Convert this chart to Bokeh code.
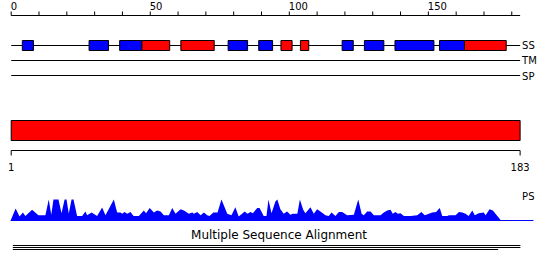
from bokeh.plotting import figure
from bokeh.models import Range1d
from bokeh.core.properties import value
from bokeh.embed import file_html
from bokeh.resources import INLINE

# ---------------- data ----------------
SEQ_LEN = 183
ruler_ticks = list(range(0, 181, 10))
ruler_label_pos = [0, 50, 100, 150]
ruler_labels = ["0", "50", "100", "150"]

ss_start = [4, 28, 39, 47, 61, 78, 89, 97, 104, 119, 127, 138, 154, 163]
ss_end = [8, 35, 47, 57, 73, 85, 94, 101, 107, 123, 134, 152, 163, 178]
ss_type = ["helix", "helix", "helix", "strand", "strand", "helix", "helix",
           "strand", "strand", "helix", "helix", "helix", "helix", "strand"]

track_names = ["SS", "TM", "SP"]

domain_start = [0]
domain_end = [183]
seq_label_pos = [0, 183]
seq_labels = ["1", "183"]

ps_pos = [-0.2, 1.6, 3.0, 4.2, 5.1, 7.5, 9.8, 12.3, 13.5, 14.4, 15.2, 17.0, 18.1, 19.2, 19.9,
          20.7, 21.7, 22.4, 23.7, 25.5, 26.7, 27.3, 28.9, 30.9, 32.7, 33.9,
          36.9, 38.1, 39.3, 39.9, 40.8, 41.7, 42.9, 44.0, 45.9, 47.7, 48.5, 49.8, 51.3,
          52.5, 53.7, 54.9, 56.7, 57.9, 59.1, 60.9, 62.1, 63.9, 65.1, 65.7, 66.9, 68.1,
          69.3, 70.5,
          71.3, 72.7, 74.2, 75.6, 77.7, 79.2, 80.6, 81.8, 84.0, 84.9, 86.1, 86.9, 88.5,
          89.3, 90.8, 91.8, 92.5, 93.6, 95.0, 95.7, 96.8, 98.0, 99.2, 100.4, 101.2,
          102.9, 103.8, 105.0, 105.8,
          107.6, 108.8, 110.0, 111.2, 113.0, 114.2, 115.2, 116.6, 117.8, 119.0, 120.8,
          123.2, 124.8, 126.0, 126.8, 128.0, 129.2, 130.4, 132.8, 134.0, 135.2, 136.4,
          137.2, 138.2, 139.0, 140.0, 141.2, 143.6,
          146.0, 147.5, 148.7, 150.2, 151.4, 152.8, 153.5, 154.1, 155.0, 156.8, 157.4,
          159.8, 161.0, 162.2, 163.4, 164.5, 165.8, 166.7, 168.1, 169.9, 170.6, 172.0,
          173.2, 174.8, 175.9, 176.3]
ps_val = [0.0, 0.57, 0.19, 0.38, 0.22, 0.51, 0.25, 0.25, 1.0, 0.27, 1.0, 1.0, 0.35, 1.0, 1.0,
          0.33, 1.0, 1.0, 0.22, 0.22, 0.43, 0.25, 0.38, 0.22, 0.62, 0.25,
          1.0, 0.38, 0.38, 0.32, 0.40, 0.32, 0.41, 0.22, 0.22, 0.48, 0.35, 0.59, 0.38,
          0.48, 0.43, 0.25, 0.25, 0.59, 0.32, 0.54, 0.48, 0.32, 0.38, 0.32, 0.41, 0.25,
          0.38, 0.25,
          0.22, 0.38, 0.38, 1.0, 0.32, 0.25, 0.63, 0.19, 0.43, 0.32, 0.41, 0.35, 0.59,
          0.59, 0.22, 0.22, 1.0, 0.35, 0.90, 1.0, 0.54, 0.32, 0.43, 0.27, 0.32,
          0.32, 1.0, 0.51, 0.35,
          0.63, 0.32, 0.54, 0.43, 0.25, 0.22, 0.38, 0.22, 0.41, 0.41, 0.25,
          0.27, 1.0, 0.32, 0.25, 0.43, 0.43, 0.25, 0.25, 0.38, 0.48, 0.51,
          0.32, 0.41, 0.32, 0.35, 0.22, 0.22,
          0.25, 0.41, 0.25, 0.32, 0.38, 0.41, 0.51, 0.59, 0.22, 0.22, 0.25,
          0.25, 0.41, 0.38, 0.32, 0.22, 0.48, 0.25, 0.35, 0.38, 0.25, 0.54,
          0.48, 0.22, 0.03, 0.0]
ps_axis_end = 187.8

msa_start = [0.6, 0.6, 0.6]
msa_end = [183.1, 183.1, 175.1]
msa_title = "Multiple Sequence Alignment"
msa_title_pos = 96.3

# ---------------- layout / style ----------------
FONT = value("DejaVu Sans")
BLUE = "#0000ff"
RED = "#ff0000"
type_color = {"helix": BLUE, "strand": RED}

W, H = 550, 271
PX0, PXU = 10.7, 2.781   # pixel of position 0, pixels per residue

p = figure(width=W, height=H, output_backend="svg", toolbar_location=None,
           x_range=Range1d(-PX0 / PXU, (W - PX0) / PXU),
           y_range=Range1d(H, 0),
           min_border=0, x_axis_location=None, y_axis_location=None)
p.grid.visible = False
p.outline_line_color = None
p.background_fill_color = "white"
p.border_fill_color = "white"

# profile scale: value 0 at y=220, value 1 at y=199
PS_BASE, PS_H = 220.0, 21.0
p.extra_y_ranges = {"ps": Range1d(-(H - PS_BASE) / PS_H, PS_BASE / PS_H)}

TXT = dict(text_font=FONT, text_color="black", text_baseline="alphabetic")

# top ruler
p.segment(x0=0, x1=SEQ_LEN, y0=15, y1=15, line_color="black", line_width=1)
p.segment(x0=ruler_ticks, x1=ruler_ticks, y0=11, y1=15, line_color="black", line_width=1)
p.text(x=ruler_label_pos, y=[5] * len(ruler_label_pos), text=ruler_labels,
       text_font_size="10px", text_align="left", x_offset=-0.5, **TXT)

# track lines
track_y = [45, 60, 75]
p.segment(x0=[0] * 3, x1=[SEQ_LEN] * 3, y0=track_y, y1=track_y,
          line_color="black", line_width=1)
p.text(x=[SEQ_LEN] * 3, y=[45, 60, 75.5], text=track_names,
       text_font_size="10px", text_align="left", x_offset=2, **TXT)

# SS boxes
p.quad(left=ss_start, right=ss_end, top=[40] * len(ss_start), bottom=[50] * len(ss_start),
       fill_color=[type_color[t] for t in ss_type], line_color="black", line_width=1)

# domain bar
p.quad(left=domain_start, right=domain_end, top=[120], bottom=[140],
       fill_color=RED, line_color="black", line_width=1)

# bottom ruler
p.segment(x0=0, x1=SEQ_LEN, y0=150, y1=150, line_color="black", line_width=1)
p.segment(x0=seq_label_pos, x1=seq_label_pos, y0=150, y1=155,
          line_color="black", line_width=1)
p.text(x=seq_label_pos, y=[166] * 2, text=seq_labels,
       text_font_size="10px", text_align="center", **TXT)

# PS profile
p.varea(x=ps_pos, y1=[0] * len(ps_pos), y2=ps_val, fill_color=BLUE, y_range_name="ps")
p.segment(x0=ps_pos[0], x1=ps_axis_end, y0=0, y1=0, line_color=BLUE, line_width=1,
          y_range_name="ps")
p.text(x=[SEQ_LEN], y=[196], text=["PS"],
       text_font_size="10px", text_align="left", x_offset=2, **TXT)

# MSA
p.text(x=[msa_title_pos], y=[234.5], text=[msa_title],
       text_font_size="12px", text_align="center", **TXT)
msa_y = [245, 247, 249]
p.segment(x0=msa_start, x1=msa_end, y0=msa_y, y1=msa_y, line_color="black", line_width=1)

open("out.html", "w").write(file_html(p, INLINE))
